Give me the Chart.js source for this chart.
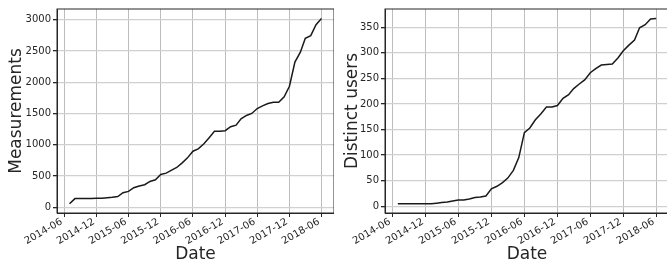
<!DOCTYPE html>
<html>
<head>
<meta charset="utf-8">
<script src="https://cdn.jsdelivr.net/npm/chart.js@4"></script>
<style>
  html, body { margin: 0; padding: 0; background: #fff; overflow: hidden; }
  #wrap { position: relative; width: 667px; height: 263px; overflow: hidden; }
  .box { position: absolute; top: 0; height: 263px; }
</style>
</head>
<body>
<div id="wrap">
  <div class="box" style="left:0;width:334px"><canvas id="measurements"></canvas></div>
  <div class="box" style="left:335px;width:334px"><canvas id="users"></canvas></div>
</div>
<script>
// monthly points
const months = [
  '2014-07', '2014-08', '2014-09', '2014-10', '2014-11', '2014-12',
  '2015-01', '2015-02', '2015-03', '2015-04', '2015-05', '2015-06',
  '2015-07', '2015-08', '2015-09', '2015-10', '2015-11', '2015-12',
  '2016-01', '2016-02', '2016-03', '2016-04', '2016-05', '2016-06',
  '2016-07', '2016-08', '2016-09', '2016-10', '2016-11', '2016-12',
  '2017-01', '2017-02', '2017-03', '2017-04', '2017-05', '2017-06',
  '2017-07', '2017-08', '2017-09', '2017-10', '2017-11', '2017-12',
  '2018-01', '2018-02', '2018-03', '2018-04', '2018-05', '2018-06'
];
const measurements = [
  55, 138, 138, 140, 140, 143,
  145, 153, 160, 170, 233, 254,
  313, 339, 360, 413, 440, 525,
  546, 594, 636, 710, 790, 896,
  933, 1012, 1113, 1214, 1214, 1224,
  1288, 1314, 1415, 1468, 1500, 1579,
  1622, 1659, 1680, 1680, 1765, 1935,
  2321, 2480, 2703, 2745, 2920, 3020
];
const distinctUsers = [
  5, 5, 5, 5, 5, 5,
  5, 6, 7, 8, 10, 12,
  12, 14, 17, 18, 20, 34,
  39, 46, 55, 70, 95, 144,
  153, 169, 181, 194, 194, 197,
  211, 218, 230, 239, 247, 261,
  269, 276, 277, 278, 290, 304,
  315, 325, 349, 355, 366, 367
];
const dateTicks = ['2014-06', '2014-12', '2015-06', '2015-12', '2016-06', '2016-12', '2017-06', '2017-12', '2018-06'];
const measurementTicks = [0, 500, 1000, 1500, 2000, 2500, 3000];
const userTicks = [0, 50, 100, 150, 200, 250, 300, 350];

function toTime(s) {
  const [y, m] = s.split('-').map(Number);
  return Date.UTC(y, m - 1, 1);
}

const ink = '#262626';
const font = 'DejaVu Sans';

const frame = {
  id: 'frame',
  afterDraw(chart) {
    const {ctx, chartArea: a} = chart;
    ctx.save();
    ctx.strokeStyle = '#262626';
    ctx.lineWidth = 1;
    ctx.strokeRect(a.left, a.top, a.right - a.left, a.bottom - a.top);
    ctx.restore();
  }
};

function makeChart(id, values, yTicks, yTitle, yMin, yMax, yWidth, titlePad) {
  const ctx = document.getElementById(id).getContext('2d');
  new Chart(ctx, {
    type: 'line',
    data: {
      datasets: [{
        data: months.map((m, i) => ({x: toTime(m), y: values[i]})),
        borderColor: '#1a1a1a',
        borderWidth: 1.5,
        pointRadius: 0,
        tension: 0,
        fill: false
      }]
    },
    options: {
      responsive: true,
      maintainAspectRatio: false,
      animation: false,
      events: [],
      layout: {padding: {top: 9, right: 0, left: 0, bottom: 0}},
      plugins: {legend: {display: false}, tooltip: {enabled: false}},
      scales: {
        x: {
          type: 'linear',
          min: Date.UTC(2014, 3, 21),
          max: Date.UTC(2018, 7, 11),
          afterBuildTicks: s => { s.ticks = dateTicks.map(t => ({value: toTime(t)})); },
          afterFit: s => { s.height = 50; },
          ticks: {
            callback: (v, i) => dateTicks[i],
            minRotation: 30,
            maxRotation: 30,
            color: ink,
            padding: -1,
            labelOffset: -2.5,
            font: {family: font, size: 10}
          },
          grid: {color: '#bdbdbd', lineWidth: 1, tickColor: ink, tickLength: 4},
          border: {color: ink, width: 1},
          title: {
            display: true,
            text: 'Date',
            color: ink,
            font: {family: font, size: 17, lineHeight: 1},
            padding: {top: -2, bottom: 0}
          }
        },
        y: {
          min: yMin,
          max: yMax,
          afterBuildTicks: s => { s.ticks = yTicks.map(v => ({value: v})); },
          afterFit: s => { s.width = yWidth; },
          ticks: {
            callback: v => String(v),
            color: ink,
            padding: 2,
            font: {family: font, size: 10}
          },
          grid: {color: '#d0d0d0', lineWidth: 1.3, tickColor: ink, tickLength: 4},
          border: {color: ink, width: 1},
          title: {
            display: true,
            text: yTitle,
            color: ink,
            font: {family: font, size: 17, lineHeight: 1.2},
            padding: {top: titlePad, bottom: 0}
          }
        }
      }
    },
    plugins: [frame]
  });
}

makeChart('measurements', measurements, measurementTicks, 'Measurements', -92, 3171, 57, 6);
makeChart('users', distinctUsers, userTicks, 'Distinct users', -13.3, 385.7, 50, 7);
</script>
</body>
</html>
